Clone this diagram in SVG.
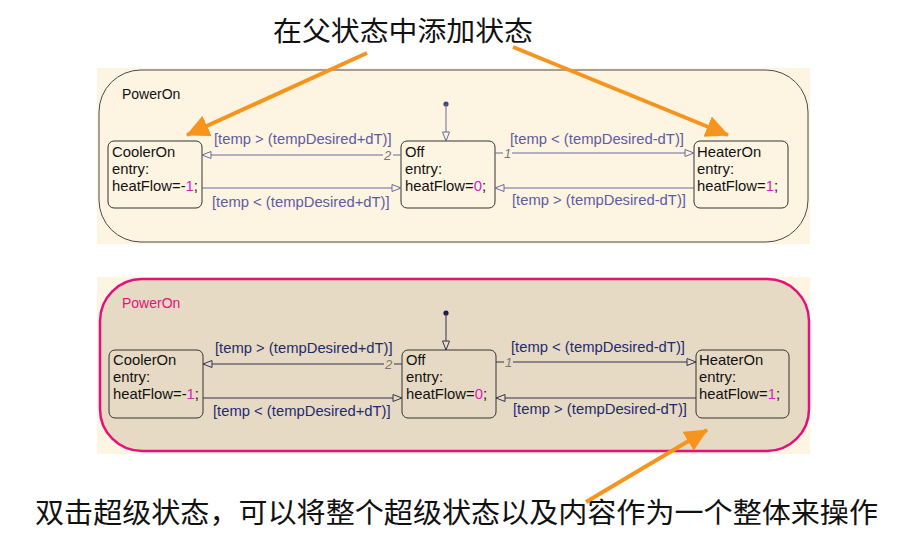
<svg xmlns="http://www.w3.org/2000/svg" width="915" height="535" viewBox="0 0 915 535">
<style>
.cjk{font-family:"Noto Sans CJK SC","Noto Sans CJK JP",sans-serif;fill:#111}
.st{font-family:"Liberation Sans",Arial,sans-serif;font-size:14.8px;fill:#111}
.num{fill:#e020c0}
.box{fill:none;stroke:#333;stroke-width:1}
.lblT{font-family:"Liberation Sans",Arial,sans-serif;font-size:14.8px;fill:#5c5ca0}
.lblB{font-family:"Liberation Sans",Arial,sans-serif;font-size:14.8px;fill:#1e2a6e}
.ord{font-family:"Liberation Sans",Arial,sans-serif;font-size:13px;font-style:italic;fill:#777}
.trT{stroke:#6a6a9a;stroke-width:1;fill:none}
.trB{stroke:#333355;stroke-width:1;fill:none}
.orange{stroke:#f7941d;stroke-width:4;fill:none}
</style>
<defs>
<marker id="openT" markerUnits="userSpaceOnUse" markerWidth="12" markerHeight="10" refX="10" refY="5" orient="auto">
<path d="M1,1.5 L10,5 L1,8.5 z" fill="#fef4e2" stroke="#6a6a9a" stroke-width="1"/>
</marker>
<marker id="openB" markerUnits="userSpaceOnUse" markerWidth="12" markerHeight="10" refX="10" refY="5" orient="auto">
<path d="M1,1.5 L10,5 L1,8.5 z" fill="#e6dac4" stroke="#333355" stroke-width="1"/>
</marker>
<marker id="orangeHead" markerUnits="userSpaceOnUse" markerWidth="26" markerHeight="24" refX="22" refY="11" orient="auto">
<path d="M0,0 L23,11 L0,22 z" fill="#f7941d"/>
</marker>
</defs>
<rect width="915" height="535" fill="#ffffff"/>

<!-- top panel -->
<g id="panel-top">
<rect x="97" y="68" width="713" height="176" fill="#fef4e2"/>
<rect id="PowerOn-top" x="99" y="70" width="709" height="172" rx="42" ry="42" fill="#fef4e2" stroke="#4a4a4a" stroke-width="1"/>
<text class="st" x="122" y="99" style="font-size:14px">PowerOn</text>
</g>
<g id="CoolerOn-top">
<rect class="box" x="108" y="141" width="94" height="67" rx="6"/>
<text class="st" x="112" y="157">CoolerOn</text>
<text class="st" x="112" y="174">entry:</text>
<text class="st" x="112" y="191">heatFlow=-<tspan class="num">1</tspan>;</text>
</g>
<g id="Off-top">
<rect class="box" x="401" y="141" width="94" height="67" rx="6"/>
<text class="st" x="405" y="157">Off</text>
<text class="st" x="405" y="174">entry:</text>
<text class="st" x="405" y="191">heatFlow=<tspan class="num">0</tspan>;</text>
</g>
<g id="HeaterOn-top">
<rect class="box" x="694" y="141" width="94" height="67" rx="6"/>
<text class="st" x="697" y="157">HeaterOn</text>
<text class="st" x="697" y="174">entry:</text>
<text class="st" x="697" y="191">heatFlow=<tspan class="num">1</tspan>;</text>
</g>
<g id="connectors-top">
<circle cx="446" cy="104" r="2.6" fill="#44447a"/>
<line class="trT" x1="446" y1="104" x2="446" y2="141" marker-end="url(#openT)"/>
<line class="trT" x1="401" y1="155" x2="393" y2="155"/>
<line class="trT" x1="383" y1="155" x2="202" y2="155" marker-end="url(#openT)"/>
<text class="ord" x="384" y="160">2</text>
<text class="lblT" x="214" y="144">[temp &gt; (tempDesired+dT)]</text>
<line class="trT" x1="202" y1="188" x2="401" y2="188" marker-end="url(#openT)"/>
<text class="lblT" x="212" y="207">[temp &lt; (tempDesired+dT)]</text>
<line class="trT" x1="495" y1="153" x2="503" y2="153"/>
<line class="trT" x1="512" y1="153" x2="694" y2="153" marker-end="url(#openT)"/>
<text class="ord" x="504" y="158">1</text>
<text class="lblT" x="510" y="144">[temp &lt; (tempDesired-dT)]</text>
<line class="trT" x1="694" y1="188" x2="495" y2="188" marker-end="url(#openT)"/>
<text class="lblT" x="512" y="205">[temp &gt; (tempDesired-dT)]</text>
</g>

<!-- bottom panel -->
<g id="panel-bottom">
<rect x="97" y="277" width="713" height="177" fill="#fef4e2"/>
<rect id="PowerOn-bottom" x="100" y="279" width="709" height="172" rx="42" ry="42" fill="#e6dac4" stroke="#e4117c" stroke-width="2.5"/>
<text class="st" x="122" y="308" style="font-size:14px;fill:#e4117c">PowerOn</text>
</g>
<g id="CoolerOn-bottom">
<rect class="box" x="109" y="350" width="94" height="68" rx="6"/>
<text class="st" x="113" y="365">CoolerOn</text>
<text class="st" x="113" y="382">entry:</text>
<text class="st" x="113" y="399">heatFlow=-<tspan class="num">1</tspan>;</text>
</g>
<g id="Off-bottom">
<rect class="box" x="402" y="350" width="94" height="68" rx="6"/>
<text class="st" x="406" y="365">Off</text>
<text class="st" x="406" y="382">entry:</text>
<text class="st" x="406" y="399">heatFlow=<tspan class="num">0</tspan>;</text>
</g>
<g id="HeaterOn-bottom">
<rect class="box" x="696" y="350" width="93" height="68" rx="6"/>
<text class="st" x="699" y="365">HeaterOn</text>
<text class="st" x="699" y="382">entry:</text>
<text class="st" x="699" y="399">heatFlow=<tspan class="num">1</tspan>;</text>
</g>
<g id="connectors-bottom">
<circle cx="446" cy="313" r="2.6" fill="#1a1a44"/>
<line class="trB" x1="446" y1="313" x2="446" y2="350" marker-end="url(#openB)"/>
<line class="trB" x1="402" y1="364" x2="394" y2="364"/>
<line class="trB" x1="384" y1="364" x2="203" y2="364" marker-end="url(#openB)"/>
<text class="ord" x="385" y="369">2</text>
<text class="lblB" x="215" y="353">[temp &gt; (tempDesired+dT)]</text>
<line class="trB" x1="203" y1="398" x2="402" y2="398" marker-end="url(#openB)"/>
<text class="lblB" x="213" y="416">[temp &lt; (tempDesired+dT)]</text>
<line class="trB" x1="496" y1="362" x2="504" y2="362"/>
<line class="trB" x1="513" y1="362" x2="696" y2="362" marker-end="url(#openB)"/>
<text class="ord" x="505" y="367">1</text>
<text class="lblB" x="511" y="352">[temp &lt; (tempDesired-dT)]</text>
<line class="trB" x1="696" y1="398" x2="496" y2="398" marker-end="url(#openB)"/>
<text class="lblB" x="513" y="414">[temp &gt; (tempDesired-dT)]</text>
</g>

<!-- annotations -->
<g id="annotations">
<text class="cjk" x="273" y="41" font-size="27" textLength="260" lengthAdjust="spacingAndGlyphs">在父状态中添加状态</text>
<text class="cjk" x="35" y="523" font-size="28" textLength="843" lengthAdjust="spacingAndGlyphs">双击超级状态，可以将整个超级状态以及内容作为一个整体来操作</text>
<line class="orange" x1="367" y1="53" x2="187" y2="135" marker-end="url(#orangeHead)"/>
<line class="orange" x1="513" y1="47" x2="728" y2="135" marker-end="url(#orangeHead)"/>
<line class="orange" x1="586" y1="502" x2="707" y2="430" marker-end="url(#orangeHead)"/>
</g>
</svg>
